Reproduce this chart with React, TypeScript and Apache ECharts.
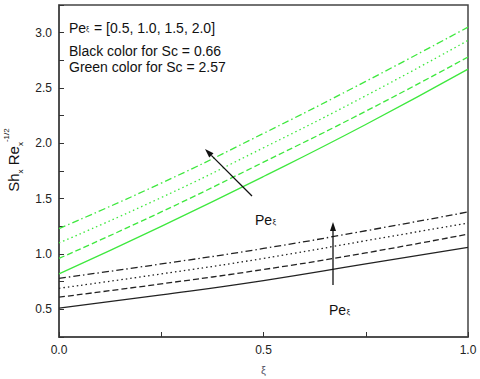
import React, { useEffect, useRef } from "react";
import * as echarts from "echarts";

const xi = [0, 0.25, 0.5, 0.75, 1.0];
const blackSolid = [0.51, 0.63, 0.76, 0.91, 1.06];
const blackDashed = [0.61, 0.73, 0.86, 1.01, 1.18];
const blackDotted = [0.69, 0.82, 0.96, 1.12, 1.28];
const blackDashDot = [0.78, 0.91, 1.05, 1.21, 1.38];
const greenSolid = [0.82, 1.25, 1.7, 2.17, 2.67];
const greenDashed = [0.96, 1.38, 1.83, 2.29, 2.78];
const greenDotted = [1.1, 1.51, 1.96, 2.43, 2.93];
const greenDashDot = [1.23, 1.64, 2.09, 2.56, 3.05];

const BLACK = "#222";
const GREEN = "#3ee83e";
const DASHED = [6, 3];
const DOTTED = [1.5, 3];
const DASHDOT = [7, 3, 1.5, 3];
const F = "Arial, 'Liberation Sans'";

function mk(name: string, vals: number[], color: string, type: any) {
  return {
    name,
    type: "line",
    smooth: true,
    showSymbol: false,
    data: xi.map((x, i) => [x, vals[i]]),
    lineStyle: { color, width: 1.3, type },
    z: 3,
  };
}

function arrow(x1: number, y1: number, x2: number, y2: number) {
  const dx = x2 - x1, dy = y2 - y1;
  const L = Math.sqrt(dx * dx + dy * dy);
  const ux = dx / L, uy = dy / L;
  const hl = 9, hw = 3;
  const bx = x2 - ux * hl, by = y2 - uy * hl;
  return [
    { type: "line", shape: { x1, y1, x2: bx, y2: by }, style: { stroke: "#111", lineWidth: 1.3 }, z: 10 },
    {
      type: "polygon",
      shape: { points: [[x2, y2], [bx - uy * hw, by + ux * hw], [bx + uy * hw, by - ux * hw]] },
      style: { fill: "#111" },
      z: 10,
    },
  ];
}

function peLabel(x: number, y: number) {
  return [
    { type: "text", x, y, style: { text: "Pe", font: `14px ${F}`, fill: "#111", textBaseline: "alphabetic" }, z: 10 },
    { type: "text", x: x + 17.5, y: y + 4, style: { text: "ξ", font: `8px ${F}`, fill: "#111", textBaseline: "alphabetic" }, z: 10 },
  ];
}

export default function App() {
  const ref = useRef<HTMLDivElement>(null);
  useEffect(() => {
    document.body.style.margin = "0";
    const chart = echarts.init(ref.current!, null, { renderer: "svg" });
    const labelFont = { fontSize: 12, color: "#222", fontFamily: F };
    const fmt = (v: number) => (Math.abs(v * 2 - Math.round(v * 2)) < 1e-6 ? v.toFixed(1) : "");
    chart.setOption({
      animation: false,
      backgroundColor: "#fff",
      grid: {
        left: 59, right: 12, top: 5, bottom: 42,
        show: true, borderColor: "#444", borderWidth: 1.5,
        containLabel: false, outerBoundsMode: "none",
      },
      xAxis: {
        type: "value",
        min: 0,
        max: 1,
        interval: 0.25,
        name: "ξ",
        nameLocation: "middle",
        nameGap: 27,
        nameTextStyle: { fontSize: 11, color: "#556", fontFamily: F },
        axisLine: { show: true, lineStyle: { color: "#444", width: 1.5 } },
        axisTick: { show: true, inside: true, length: 5, lineStyle: { color: "#333" } },
        axisLabel: { ...labelFont, margin: 7, formatter: fmt },
        splitLine: { show: false },
      },
      yAxis: {
        type: "value",
        min: 0.25,
        max: 3.25,
        interval: 0.25,
        name: "{a|Sh}{b|x}{a| Re}{b|x}{c|-1/2}",
        nameLocation: "middle",
        nameRotate: 90,
        nameGap: 35,
        nameTextStyle: {
          fontFamily: F,
          color: "#111",
          padding: [0, 0, 0, 22],
          rich: {
            a: { fontSize: 15, lineHeight: 22, verticalAlign: "middle", fontFamily: F, color: "#111" },
            b: { fontSize: 8, lineHeight: 8, verticalAlign: "bottom", fontFamily: F, color: "#111" },
            c: { fontSize: 8, lineHeight: 8, verticalAlign: "top", fontFamily: F, color: "#111" },
          },
        },
        axisLine: { show: true, lineStyle: { color: "#444", width: 1.5 } },
        axisTick: { show: true, inside: true, length: 5, lineStyle: { color: "#333" } },
        axisLabel: { ...labelFont, margin: 7, formatter: fmt },
        splitLine: { show: false },
      },
      series: [
        mk("b1", blackSolid, BLACK, "solid"),
        mk("b2", blackDashed, BLACK, DASHED),
        mk("b3", blackDotted, BLACK, DOTTED),
        mk("b4", blackDashDot, BLACK, DASHDOT),
        mk("g1", greenSolid, GREEN, "solid"),
        mk("g2", greenDashed, GREEN, DASHED),
        mk("g3", greenDotted, GREEN, DOTTED),
        mk("g4", greenDashDot, GREEN, DASHDOT),
      ],
      graphic: [
        { type: "text", x: 69, y: 21, style: { text: "Pe", font: `14px ${F}`, fill: "#111", textBaseline: "alphabetic" } },
        { type: "text", x: 86, y: 25, style: { text: "ξ", font: `7px ${F}`, fill: "#111", textBaseline: "alphabetic" } },
        { type: "text", x: 94, y: 21, style: { text: "= [0.5, 1.0, 1.5, 2.0]", font: `14px ${F}`, fill: "#111", textBaseline: "alphabetic" } },
        { type: "text", x: 69, y: 44, style: { text: "Black color for Sc = 0.66", font: `14px ${F}`, fill: "#111", textBaseline: "alphabetic" } },
        { type: "text", x: 69, y: 60, style: { text: "Green color for Sc = 2.57", font: `14px ${F}`, fill: "#111", textBaseline: "alphabetic" } },
        ...arrow(252, 196, 205, 149),
        ...peLabel(255, 213),
        ...arrow(333, 285, 333, 222),
        ...peLabel(329, 303),
      ],
    });
    return () => chart.dispose();
  }, []);
  return <div ref={ref} style={{ width: 480, height: 379 }} />;
}
